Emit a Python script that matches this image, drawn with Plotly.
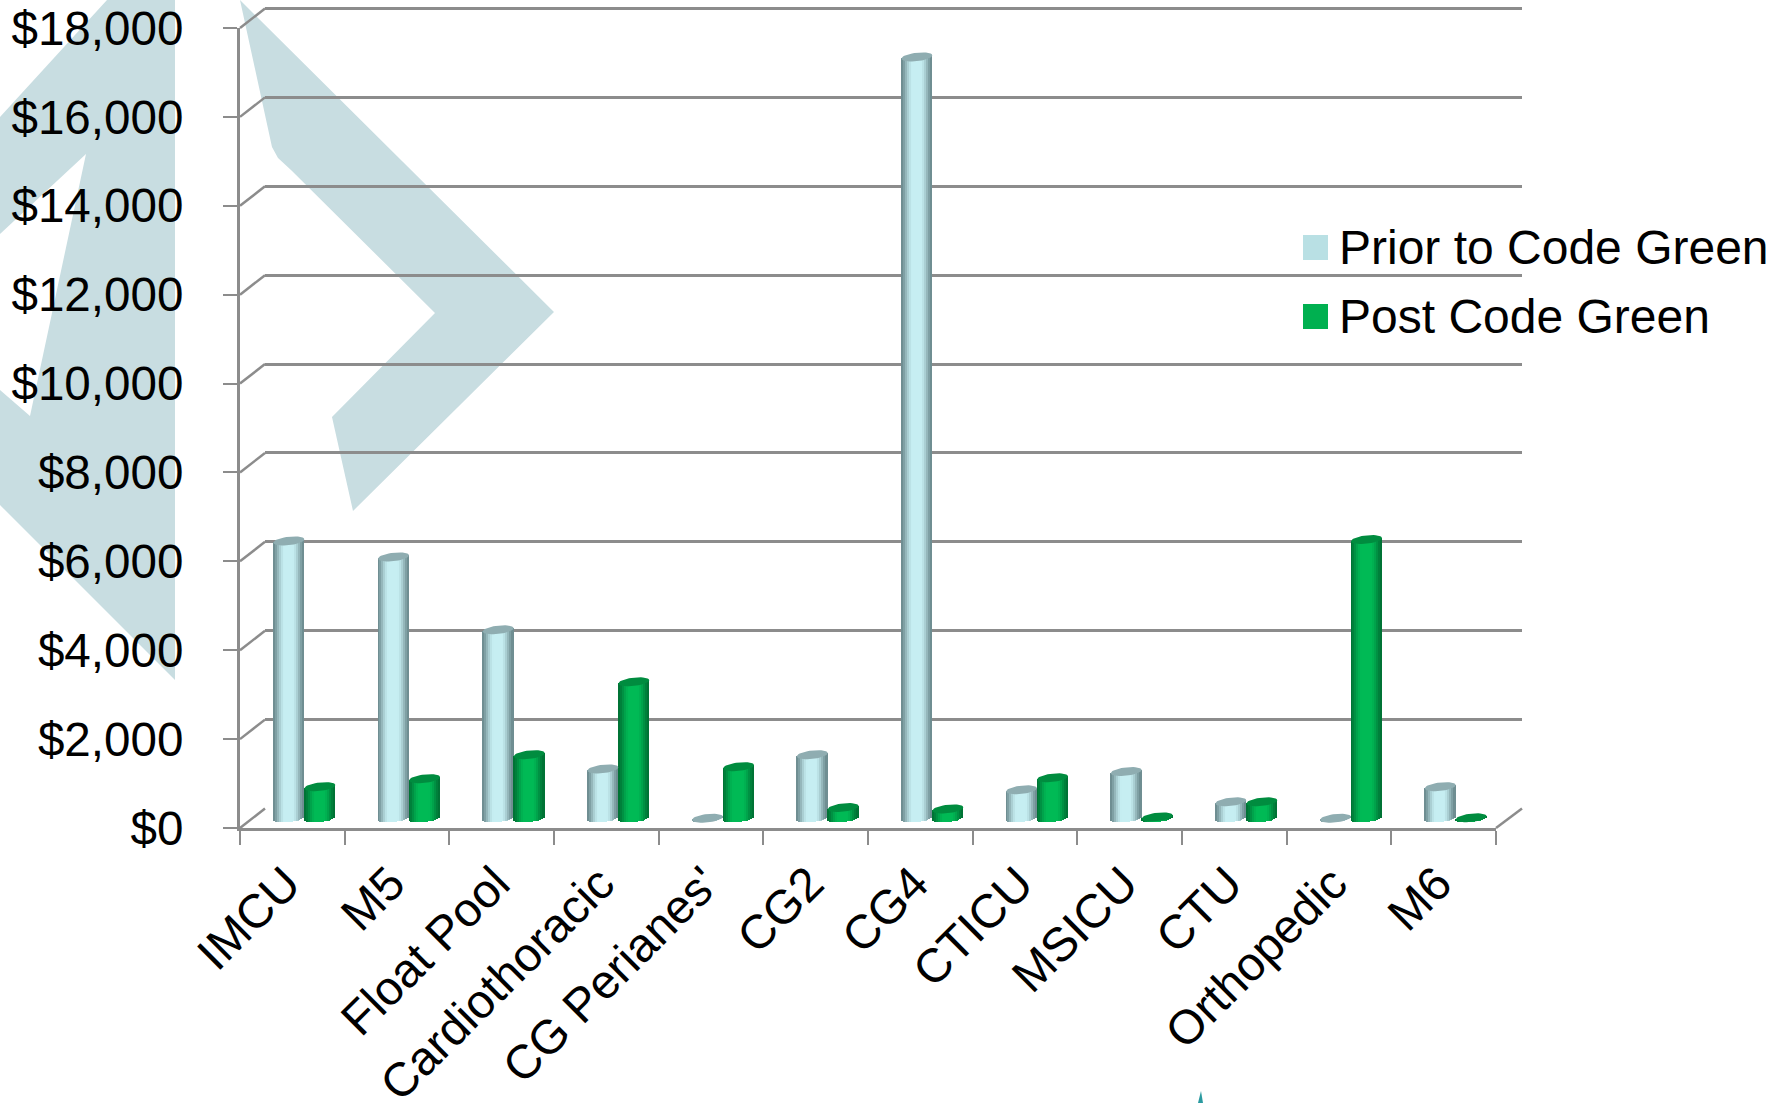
import math
import plotly.graph_objects as go

WIDTH, HEIGHT = 1783, 1103

categories = ["IMCU", "M5", "Float Pool", "Cardiothoracic", "CG Perianes'", "CG2",
              "CG4", "CTICU", "MSICU", "CTU", "Orthopedic", "M6"]
prior_to_code_green = [6240, 5880, 4240, 1110, 0, 1430, 17130, 640, 1050, 370, 0, 710]
post_code_green = [710, 890, 1430, 3070, 1160, 240, 210, 910, 30, 370, 6270, 10]
y_ticks = list(range(0, 18001, 2000))

FONT = "Liberation Sans"
GREY = "#8c8c8c"
WATERMARK = "#c8dde1"
TICK_FONT = dict(family=FONT, size=47.6, color="#000000")
LABEL_FONT = dict(family=FONT, size=47.6, color="#000000")
LEGEND_FONT = dict(family=FONT, size=48, color="#000000")

# Page geometry of the faux 3D frame
FRONT_LEFT, FRONT_RIGHT = 240, 1496
FRONT_ZERO, FRONT_TOP = 828, 28
BACK_RIGHT = 1522
DEPTH_X, DEPTH_Y = 25, 19.5
PX_PER_DOLLAR = (FRONT_ZERO - FRONT_TOP) / 18000
CATEGORY_PX = (FRONT_RIGHT - FRONT_LEFT) / len(categories)
LABEL_SHIFT_PX = 6
# Headroom above the back wall's top gridline and room below the cylinders' feet
WALL_PAD_PX = 4
FOOT_PAD_PX = 12

CYL_PX = 31
TOP_RY_PX = 4.2
TILT_PX = 1.6
STRIPS = 16


def xdom(left, right):
    return [left / WIDTH, right / WIDTH]


def ydom(bottom, top):
    return [1 - bottom / HEIGHT, 1 - top / HEIGHT]


def mix(a, b, t):
    rgb = [round(a[i] + (b[i] - a[i]) * t) for i in range(3)]
    return f"rgb({rgb[0]},{rgb[1]},{rgb[2]})"


def shade(u, edge, centre):
    # Light falls off toward the cylinder's sides
    t = min(1.0, (1 - abs(u)) / 0.75)
    return mix(edge, centre, math.sin(t * math.pi / 2) ** 1.6)


series = [
    ("Prior to Code Green", prior_to_code_green, -1, (108, 138, 142), (198, 238, 242), "#8fadb1", "#b9e0e4"),
    ("Post Code Green", post_code_green, 1, (0, 112, 52), (0, 186, 85), "#008c3f", "#00b050"),
]

fig = go.Figure()

# Hidden traces open each subplot: back wall, front edge, category labels
fig.add_trace(go.Scatter(x=[0, 1], y=[0, 0], mode="lines", opacity=0,
                         hoverinfo="skip", showlegend=False, xaxis="x", yaxis="y"))
fig.add_trace(go.Scatter(x=[0, 1], y=[0, 0], mode="lines", opacity=0,
                         hoverinfo="skip", showlegend=False, xaxis="x2", yaxis="y2"))
fig.add_trace(go.Scatter(x=categories, y=[0] * len(categories), mode="lines", opacity=0,
                         hoverinfo="skip", showlegend=False, xaxis="x4", yaxis="y2"))

strip_w = CYL_PX / CATEGORY_PX / STRIPS
half_units = CYL_PX / CATEGORY_PX / 2
ry = TOP_RY_PX / PX_PER_DOLLAR
tilt = TILT_PX / PX_PER_DOLLAR
positions = [i + 0.5 for i in range(len(categories))]

for name, values, side, edge, centre, top_col, _ in series:
    shift = side * half_units
    # Cylinder bodies: thin adjacent bars produce the side-to-side shading
    for s in range(STRIPS):
        u = (s + 0.5) / STRIPS * 2 - 1
        foot = -ry * math.sqrt(1 - u * u) + tilt * u
        head = tilt * u
        fig.add_trace(go.Bar(
            x=positions,
            y=[v + head - foot for v in values],
            base=[foot] * len(values),
            width=strip_w,
            offset=shift + (s / STRIPS * 2 - 1) * half_units,
            marker=dict(color=shade(u, edge, centre), line=dict(width=0)),
            xaxis="x3", yaxis="y3", showlegend=False, hoverinfo="skip",
        ))
    # Cylinder tops: tilted ellipses
    ex, ey = [], []
    for pos, v in zip(positions, values):
        for k in range(41):
            a = 2 * math.pi * k / 40
            ex.append(pos + shift + half_units * math.cos(a))
            ey.append(v + ry * math.sin(a) + tilt * math.cos(a))
        ex.append(None)
        ey.append(None)
    fig.add_trace(go.Scatter(
        x=ex, y=ey, mode="lines", fill="toself", fillcolor=top_col,
        line=dict(width=0, color=top_col), name=name,
        xaxis="x3", yaxis="y3", showlegend=False, hoverinfo="skip",
    ))

shapes = []


def polygon(points, color, layer="below"):
    path = "M" + "L".join(f"{x / WIDTH:.5f},{1 - y / HEIGHT:.5f}" for x, y in points) + "Z"
    shapes.append(dict(type="path", xref="paper", yref="paper", path=path,
                       fillcolor=color, line=dict(width=0), layer=layer))


# Background logo artwork
polygon([(107, 0), (175, 0), (175, 680), (0, 505), (0, 390), (30, 416), (86, 154), (0, 234), (0, 117)], WATERMARK)
polygon([(240, 0), (554, 312), (353, 511), (332, 417), (435, 313), (291, 170), (278, 158), (272, 147)], WATERMARK)
polygon([(1198, 1103), (1201, 1091), (1203, 1103)], "#2a9aa0")


def frame_line(x0, y0, x1, y1):
    shapes.append(dict(type="line", xref="paper", yref="paper",
                       x0=x0 / WIDTH, x1=x1 / WIDTH, y0=1 - y0 / HEIGHT, y1=1 - y1 / HEIGHT,
                       line=dict(color=GREY, width=2.5), layer="below"))


# Slanted edges joining the front axis to the back wall
for tick in y_ticks:
    y_front = FRONT_ZERO - tick * PX_PER_DOLLAR
    frame_line(FRONT_LEFT, y_front, FRONT_LEFT + DEPTH_X, y_front - DEPTH_Y)
frame_line(FRONT_RIGHT, FRONT_ZERO, BACK_RIGHT, FRONT_ZERO - DEPTH_Y)

annotations = []
for (name, _, _, _, _, _, swatch), mid in zip(series, (247.5, 316.5)):
    shapes.append(dict(type="rect", xref="paper", yref="paper",
                       x0=1303 / WIDTH, x1=1328 / WIDTH,
                       y0=1 - (mid - 12.5) / HEIGHT, y1=1 - (mid + 12.5) / HEIGHT,
                       fillcolor=swatch, line=dict(width=0)))
    annotations.append(dict(text=name, xref="paper", yref="paper", showarrow=False,
                            x=1337 / WIDTH, y=1 - mid / HEIGHT, xanchor="left", yanchor="middle",
                            font=LEGEND_FONT))

fig.update_layout(
    width=WIDTH, height=HEIGHT,
    margin=dict(l=0, r=0, t=0, b=0, autoexpand=False),
    paper_bgcolor="#ffffff", plot_bgcolor="rgba(0,0,0,0)",
    barmode="overlay", bargap=0, showlegend=False,
    font=LABEL_FONT,
    shapes=shapes, annotations=annotations,
    # Back wall with the horizontal gridlines, lowest in the stack
    xaxis=dict(domain=xdom(FRONT_LEFT + DEPTH_X, BACK_RIGHT), range=[0, 1], automargin=False,
               showgrid=False, showticklabels=False, ticks="", showline=False, zeroline=False, anchor="y"),
    yaxis=dict(domain=ydom(FRONT_ZERO - DEPTH_Y, FRONT_TOP - DEPTH_Y - WALL_PAD_PX),
               range=[0, 18000 + WALL_PAD_PX / PX_PER_DOLLAR],
               tickvals=y_ticks, showgrid=True, gridcolor=GREY, gridwidth=2.5, showticklabels=False,
               ticks="", showline=False, zeroline=False, automargin=False, anchor="x"),
    # Front edge: tick marks and the dollar scale
    xaxis2=dict(domain=xdom(FRONT_LEFT, FRONT_RIGHT), range=[0, len(categories)], dtick=1, tick0=0,
                ticks="outside", ticklen=14, tickwidth=2, tickcolor=GREY, showticklabels=False,
                showline=True, linecolor=GREY, linewidth=3, showgrid=False, zeroline=False,
                automargin=False, anchor="y2"),
    yaxis2=dict(domain=ydom(FRONT_ZERO, FRONT_TOP), range=[0, 18000], tickvals=y_ticks,
                tickformat="$,.0f", tickfont=TICK_FONT, ticks="outside", ticklen=14, tickwidth=2, tickcolor=GREY,
                showline=True, linecolor=GREY, linewidth=3, showgrid=False, zeroline=False,
                automargin=False, ticklabelstandoff=30, anchor="x2"),
    # Mid-depth plane on which the cylinders stand
    xaxis3=dict(domain=xdom(FRONT_LEFT + 12, FRONT_RIGHT + 12), range=[0, len(categories)],
                visible=False, automargin=False, anchor="y3"),
    yaxis3=dict(domain=ydom(FRONT_ZERO - DEPTH_Y / 2 + FOOT_PAD_PX, FRONT_TOP - DEPTH_Y / 2),
                range=[-FOOT_PAD_PX / PX_PER_DOLLAR, 18000],
                visible=False, automargin=False, anchor="x3"),
    # Category labels, set slightly left of the tick intervals
    xaxis4=dict(type="category", categoryorder="array", categoryarray=categories,
                domain=xdom(FRONT_LEFT - LABEL_SHIFT_PX, FRONT_RIGHT - LABEL_SHIFT_PX),
                range=[-0.5, len(categories) - 0.5], ticks="", showline=False, showgrid=False,
                zeroline=False, automargin=False, tickangle=-45, tickfont=LABEL_FONT,
                ticklabelstandoff=17, anchor="y2"),
)

fig.write_html("out.html")
